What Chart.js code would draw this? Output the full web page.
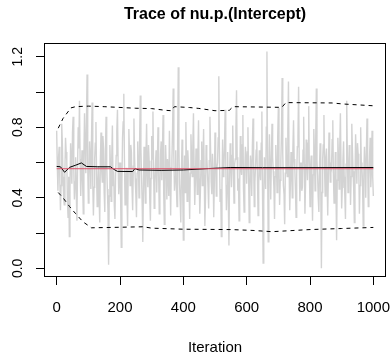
<!DOCTYPE html>
<html>
<head>
<meta charset="utf-8">
<script src="https://cdn.jsdelivr.net/npm/chart.js@4/dist/chart.umd.min.js"></script>
<style>
  html, body { margin: 0; padding: 0; background: #fff; }
</style>
</head>
<body>
<canvas id="traceChart" width="392" height="354"></canvas>
<script>
// trace of nu.p.(Intercept), one value every 2 iterations
const traceStep = 2;
const traceValues = [
  0.78, 0.58, 0.44, 0.63, 0.69, 0.50, 0.33, 0.47, 0.82, 0.71,
  0.52, 0.40, 0.36, 0.55, 0.74, 0.66, 0.61, 0.38, 0.29, 0.52,
  0.18, 0.45, 0.71, 0.60, 0.48, 0.77, 0.86, 0.57, 0.39, 0.49,
  0.63, 0.42, 0.27, 0.58, 0.80, 0.68, 0.95, 0.62, 0.41, 0.54,
  0.67, 0.49, 0.31, 0.64, 0.88, 0.70, 0.54, 0.81, 1.10, 0.59,
  0.37, 0.51, 0.72, 0.62, 0.45, 0.73, 0.94, 0.48, 0.30, 0.46,
  0.62, 0.71, 0.83, 0.53, 0.35, 0.47, 0.58, 0.40, 0.26, 0.61,
  0.77, 0.56, 0.49, 0.75, 0.68, 0.43, 0.32, 0.66, 0.86, 0.59,
  0.45, 0.33, 0.02, 0.41, 0.70, 0.57, 0.38, 0.63, 0.81, 0.47,
  0.55, 0.36, 0.28, 0.52, 0.64, 0.78, 0.90, 0.60, 0.42, 0.51,
  0.60, 0.39, 0.12, 0.48, 0.74, 0.83, 0.99, 0.62, 0.36, 0.44,
  0.57, 0.41, 0.24, 0.56, 0.79, 0.65, 0.47, 0.70, 0.66, 0.45,
  0.33, 0.58, 0.85, 0.63, 0.51, 0.42, 0.29, 0.54, 0.72, 0.61,
  0.40, 0.73, 0.98, 0.68, 0.53, 0.37, 0.15, 0.46, 0.69, 0.52,
  0.37, 0.64, 0.82, 0.55, 0.46, 0.70, 0.61, 0.39, 0.27, 0.51,
  0.75, 0.62, 0.89, 0.57, 0.34, 0.48, 0.58, 0.67, 0.43, 0.60,
  0.80, 0.54, 0.31, 0.45, 0.65, 0.72, 0.50, 0.66, 0.87, 0.43,
  0.25, 0.49, 0.70, 0.58, 0.39, 0.62, 0.56, 0.41, 0.78, 0.53,
  0.30, 0.57, 0.62, 0.79, 1.02, 0.64, 0.44, 0.52, 0.67, 0.46,
  0.35, 0.71, 1.14, 0.69, 0.48, 0.38, 0.26, 0.55, 0.73, 0.44,
  0.16, 0.50, 0.64, 0.43, 0.83, 0.60, 0.38, 0.67, 0.59, 0.47,
  0.28, 0.54, 0.76, 0.63, 0.52, 0.70, 0.88, 0.58, 0.36, 0.49,
  0.68, 0.56, 0.42, 0.65, 0.84, 0.51, 0.31, 0.44, 0.61, 0.72,
  0.47, 0.59, 0.79, 0.53, 0.24, 0.40, 0.70, 0.63, 0.55, 0.46,
  0.34, 0.61, 0.86, 0.68, 0.49, 0.42, 0.65, 0.55, 0.29, 0.50,
  0.77, 0.64, 0.41, 0.57, 0.60, 0.74, 1.09, 0.66, 0.38, 0.45,
  0.18, 0.48, 0.73, 0.52, 0.56, 0.69, 0.90, 0.61, 0.33, 0.47,
  0.66, 0.40, 0.13, 0.53, 0.71, 0.58, 0.46, 0.64, 0.81, 0.56,
  0.37, 0.59, 0.62, 0.78, 1.01, 0.63, 0.44, 0.51, 0.27, 0.48,
  0.75, 0.57, 0.53, 0.70, 0.87, 0.45, 0.32, 0.55, 0.69, 0.62,
  0.48, 0.66, 0.80, 0.54, 0.26, 0.43, 0.64, 0.58, 0.41, 0.69,
  0.85, 0.60, 0.35, 0.49, 0.58, 0.67, 0.72, 0.52, 0.30, 0.47,
  0.67, 0.55, 0.50, 0.71, 0.89, 0.44, 0.03, 0.38, 0.63, 0.57,
  0.45, 0.80, 1.23, 0.62, 0.15, 0.49, 0.76, 0.58, 0.39, 0.61,
  0.82, 0.63, 0.55, 0.46, 0.28, 0.52, 0.70, 0.59, 0.43, 0.74,
  0.91, 0.57, 0.36, 0.50, 0.61, 0.77, 1.08, 0.65, 0.47, 0.42,
  0.25, 0.54, 0.74, 0.61, 0.52, 0.79, 1.06, 0.58, 0.33, 0.47,
  0.66, 0.56, 0.40, 0.68, 0.84, 0.62, 0.57, 0.45, 0.29, 0.53,
  0.69, 0.75, 1.03, 0.60, 0.38, 0.51, 0.60, 0.44, 0.46, 0.67,
  0.86, 0.59, 0.31, 0.48, 0.73, 0.63, 0.50, 0.71, 0.92, 0.55,
  0.35, 0.58, 0.64, 0.47, 0.27, 0.53, 0.79, 0.66, 0.44, 0.72,
  1.02, 0.61, 0.53, 0.40, 0.32, 0.57, 0.71, 0.46, 0.00, 0.43,
  0.62, 0.70, 0.87, 0.56, 0.41, 0.63, 0.68, 0.49, 0.30, 0.54,
  0.77, 0.65, 0.49, 0.60, 0.58, 0.73, 0.84, 0.52, 0.37, 0.48,
  0.66, 0.44, 0.16, 0.50, 0.74, 0.62, 0.45, 0.69, 0.88, 0.57,
  0.34, 0.46, 0.61, 0.72, 0.52, 0.41, 0.28, 0.59, 0.95, 0.64,
  0.43, 0.55, 0.70, 0.61, 0.36, 0.52, 0.82, 0.67, 0.55, 0.45,
  0.26, 0.50, 0.76, 0.63, 0.48, 0.71, 0.65, 0.57, 0.31, 0.47,
  0.80, 0.60, 0.57, 0.48, 0.24, 0.53, 0.69, 0.58, 0.40, 0.66,
  0.85, 0.62, 0.35, 0.51, 0.63, 0.74, 0.46, 0.56, 0.78, 0.52,
  0.41
];

// running mean (solid black)
const meanIter = [0, 12, 25, 41, 60, 78, 94, 130, 170, 180, 192, 240, 247, 260, 330, 400, 480, 550, 650, 800, 1000];
const meanVal  = [0.578, 0.576, 0.545, 0.573, 0.585, 0.598, 0.578, 0.576, 0.576, 0.562, 0.55, 0.549, 0.566, 0.558, 0.556, 0.558, 0.566, 0.572, 0.571, 0.571, 0.572];

// running upper / lower quantiles (dashed)
const upperIter = [5, 20, 45, 60, 100, 150, 250, 300, 345, 362, 372, 420, 449, 500, 545, 557, 711, 724, 870, 905, 1000];
const upperVal  = [0.795, 0.85, 0.91, 0.917, 0.92, 0.917, 0.908, 0.906, 0.896, 0.894, 0.917, 0.912, 0.907, 0.894, 0.896, 0.917, 0.913, 0.94, 0.938, 0.932, 0.922];
const lowerIter = [5, 20, 41, 60, 83, 110, 200, 273, 300, 400, 550, 620, 680, 800, 900, 1000];
const lowerVal  = [0.43, 0.40, 0.35, 0.31, 0.264, 0.23, 0.233, 0.236, 0.228, 0.222, 0.22, 0.215, 0.208, 0.22, 0.226, 0.232];

// overall posterior mean (red)
const meanLevel = 0.565;
const meanSpan = [0, 1000];

const xTicks = [0, 200, 400, 600, 800, 1000];
const yTicks = [0, 0.2, 0.4, 0.6, 0.8, 1.0, 1.2];
const yTickLabels = [0, 0.4, 0.8, 1.2];

const pairs = (xs, ys) => xs.map((x, i) => ({ x: x, y: ys[i] }));

Chart.defaults.font.family = '"Liberation Sans", Arial, Helvetica, sans-serif';
Chart.defaults.color = '#000';

const plotBox = {
  id: 'plotBox',
  afterDraw(chart) {
    const a = chart.chartArea;
    const ctx = chart.ctx;
    ctx.save();
    ctx.strokeStyle = '#000';
    ctx.lineWidth = 1;
    ctx.strokeRect(Math.round(a.left) + 0.5, Math.round(a.top) + 0.5,
      Math.round(a.right - a.left) - 1, Math.round(a.bottom - a.top) - 1);
    ctx.restore();
  }
};

const ctx = document.getElementById('traceChart').getContext('2d');
const traceChart = new Chart(ctx, {
  type: 'line',
  data: {
    datasets: [
      {
        label: 'mean',
        data: pairs(meanSpan, [meanLevel, meanLevel]),
        borderColor: '#DF536B',
        borderWidth: 1
      },
      {
        label: 'running mean',
        data: pairs(meanIter, meanVal),
        borderColor: '#000',
        borderWidth: 1
      },
      {
        label: 'upper',
        data: pairs(upperIter, upperVal),
        borderColor: '#000',
        borderWidth: 1,
        borderDash: [4, 4]
      },
      {
        label: 'lower',
        data: pairs(lowerIter, lowerVal),
        borderColor: '#000',
        borderWidth: 1,
        borderDash: [4, 4]
      },
      {
        label: 'trace',
        data: traceValues.map((v, i) => ({ x: i * traceStep, y: v })),
        borderColor: '#d3d3d3',
        borderWidth: 1.4
      }
    ]
  },
  options: {
    responsive: false,
    animation: false,
    elements: { point: { radius: 0 }, line: { tension: 0 } },
    layout: { padding: { left: 0, right: 6, top: 0, bottom: 0 } },
    plugins: {
      legend: { display: false },
      tooltip: { enabled: false },
      title: {
        display: true,
        text: 'Trace of nu.p.(Intercept)',
        fullSize: false,
        font: { size: 16, weight: 'bold' },
        padding: { top: 5, bottom: 18.8 }
      }
    },
    scales: {
      x: {
        type: 'linear',
        min: -40,
        max: 1040,
        afterBuildTicks: s => { s.ticks = xTicks.map(v => ({ value: v })); },
        afterFit: s => { s.height = 77; s.paddingLeft = 0; s.paddingRight = 0; },
        ticks: { font: { size: 15 }, padding: 14, autoSkip: false, maxRotation: 0, callback: v => String(v) },
        grid: { drawOnChartArea: false, drawTicks: true, tickLength: 8, color: '#000' },
        border: { display: false },
        title: { display: true, text: 'Iteration', font: { size: 15 }, padding: { top: 0, bottom: -3 } }
      },
      y: {
        type: 'linear',
        min: -0.049,
        max: 1.278,
        afterBuildTicks: s => { s.ticks = yTicks.map(v => ({ value: v })); },
        afterFit: s => { s.width = 44; s.paddingTop = 0; s.paddingBottom = 0; },
        ticks: {
          font: { size: 14 },
          minRotation: 90,
          maxRotation: 90,
          crossAlign: 'center',
          padding: 8,
          autoSkip: false,
          callback: v => yTickLabels.some(t => Math.abs(t - v) < 1e-9) ? v.toFixed(1) : ''
        },
        grid: { drawOnChartArea: false, drawTicks: true, tickLength: 8, color: '#000' },
        border: { display: false }
      }
    }
  },
  plugins: [plotBox]
});
</script>
</body>
</html>
